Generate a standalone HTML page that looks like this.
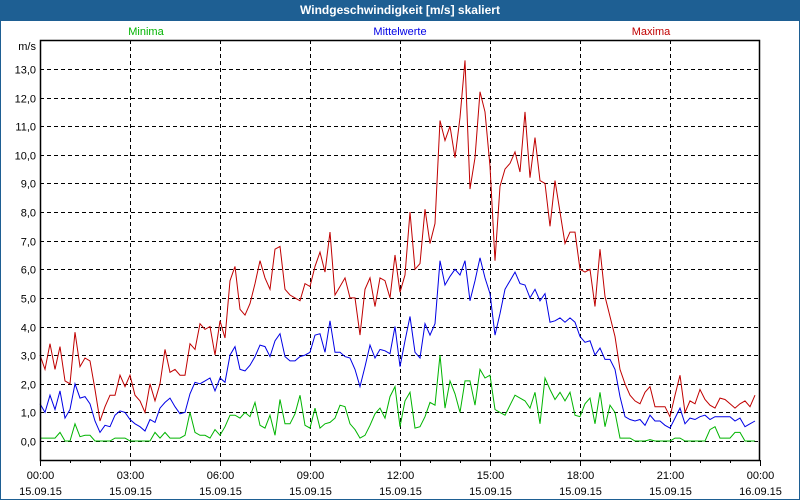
<!DOCTYPE html>
<html><head><meta charset="utf-8"><style>
html,body{margin:0;padding:0;width:800px;height:500px;overflow:hidden;background:#fff;font-family:"Liberation Sans",sans-serif}
#frame{position:absolute;left:0;top:0;width:798px;height:498px;border:1px solid #1e5f93;background:#fff}
#title{position:absolute;left:0;top:0;width:800px;height:21px;background:#1e5f93;color:#fff;font-weight:bold;font-size:12px;line-height:21px;text-align:center}
svg{position:absolute;left:0;top:0}
</style></head><body>
<div id="frame"></div>
<div id="title">Windgeschwindigkeit [m/s] skaliert</div>
<svg id="chart" width="800" height="500"></svg>
<script>
const maxima=[3.0,2.5,3.4,2.5,3.3,2.1,2.0,3.8,2.6,2.9,2.8,1.8,0.7,1.2,1.6,1.6,2.3,1.9,2.3,1.6,1.4,1.0,2.0,1.4,2.0,3.2,2.4,2.5,2.3,2.3,3.4,3.2,4.1,3.9,4.0,3.0,4.2,3.6,5.6,6.1,4.6,4.4,
4.8,5.5,6.3,5.7,5.3,6.7,6.8,5.3,5.1,5.0,4.9,5.5,5.4,6.1,6.6,5.9,7.3,5.1,5.4,5.7,5.0,5.0,3.7,5.3,5.7,4.7,5.7,5.6,5.0,6.5,5.2,5.8,8.0,6.0,6.2,8.1,6.9,7.6,
11.2,10.5,11.0,9.9,11.3,13.3,8.8,9.9,12.2,11.5,9.6,6.3,8.9,9.5,9.7,10.1,9.4,11.5,9.2,10.6,9.1,9.0,7.5,9.1,8.0,6.9,7.3,7.3,6.0,5.9,6.0,4.7,
6.7,5.05,4.35,3.65,2.5,2.0,1.6,1.4,1.3,1.7,1.9,1.2,1.2,1.2,0.85,1.6,2.3,1.0,1.4,1.3,1.8,1.45,1.25,1.15,1.5,1.45,1.3,1.15,1.3,1.4,1.2,1.6];
const mittel=[1.3,1.0,1.6,1.1,1.75,0.8,1.1,2.0,1.5,1.55,1.3,0.7,0.3,0.55,0.5,0.9,1.05,1.0,0.75,0.6,0.5,0.35,0.75,0.65,1.15,1.35,1.5,1.2,0.95,1.0,1.65,2.05,2.0,2.1,2.2,1.75,2.2,2.05,3.0,3.3,2.5,2.45,
2.65,2.95,3.35,3.3,2.95,3.5,3.75,2.95,2.8,2.8,2.95,3.0,3.1,3.7,3.75,3.1,4.2,3.1,3.1,2.95,2.9,2.5,1.9,2.6,3.35,2.9,3.2,3.15,3.05,4.0,2.6,3.5,4.35,3.1,2.9,4.1,3.7,4.1,
6.3,5.45,5.75,6.0,5.8,6.3,4.9,5.6,6.4,5.7,5.15,3.7,4.45,5.3,5.6,5.9,5.5,5.45,5.0,5.3,4.9,5.15,4.15,4.2,4.3,4.15,4.3,4.15,3.65,3.45,3.5,3.0,
3.25,2.85,2.85,2.5,1.55,0.85,0.75,0.7,0.75,0.55,0.9,0.7,0.7,0.55,0.45,0.8,1.15,0.6,0.8,0.75,0.85,0.9,0.75,0.85,0.85,0.85,0.85,0.7,0.8,0.5,0.6,0.7];
const minima=[0.1,0.1,0.1,0.1,0.3,0,0,0.6,0.15,0.2,0.2,0,0,0,0,0.1,0.1,0.1,0,0,0,0,0,0.3,0.1,0.3,0.1,0.1,0.1,0.2,1.0,0.3,0.2,0.2,0.1,0.4,0.2,0.5,0.9,0.9,0.8,1.0,
0.85,1.35,0.55,0.45,0.9,0.2,1.45,0.6,0.6,0.95,1.6,0.55,0.45,1.15,0.45,0.6,0.65,0.8,1.25,1.2,0.6,0.4,0.1,0.2,0.55,0.95,1.15,0.8,1.55,1.9,0.5,1.4,1.7,0.45,0.5,0.85,1.35,1.25,
3.0,1.15,2.1,1.65,1.0,2.1,2.1,1.25,2.5,2.2,2.3,1.1,1.0,0.9,1.25,1.6,1.5,1.4,1.15,1.7,0.6,2.2,1.8,1.45,1.7,1.4,1.7,0.9,0.85,1.3,1.5,0.6,
1.7,0.5,1.25,1.0,0.1,0.1,0.1,0,0,0,0.05,0,0,0,0,0.1,0.1,0,0,0,0,0,0.4,0.5,0.1,0.1,0.1,0.3,0.3,0,0,0];
const yTicks=[0,1,2,3,4,5,6,7,8,9,10,11,12,13];
const timeLabels=["00:00","03:00","06:00","09:00","12:00","15:00","18:00","21:00","00:00"];
const dateLabels=["15.09.15","15.09.15","15.09.15","15.09.15","15.09.15","15.09.15","15.09.15","15.09.15","16.09.15"];
const stepMinutes=10;

const L=40,R=760,T=40,B=460,Y0=441,UNIT=28.62;
const xScale=m=>L+(R-L)*m/1440;
const yScale=v=>Y0-v*UNIT;
const svg=document.getElementById('chart');
const NS='http://www.w3.org/2000/svg';
function mk(tag,attrs){const e=document.createElementNS(NS,tag);for(const k in attrs)e.setAttribute(k,attrs[k]);svg.appendChild(e);return e;}

const bg=mk('rect',{x:L,y:T,width:R-L,height:B-T,fill:'#fff'});



yTicks.forEach(v=>{
  const y=Math.round(yScale(v))+0.5;
  const g=mk('line',{x1:L,x2:R,y1:y,y2:y,stroke:'#000','stroke-dasharray':'4,3','stroke-width':1});
  
  
  const t=mk('text',{x:L-4,y:y+4,'text-anchor':'end','font-size':11,fill:'#000'});
  t.textContent=v.toFixed(1).replace('.',',');
  
  
});
timeLabels.forEach((lab,i)=>{
  const x=Math.round(xScale(i*180))+0.5;
  if(i>0&&i<timeLabels.length-1){
    const g=mk('line',{x1:x,x2:x,y1:T,y2:B,stroke:'#000','stroke-dasharray':'4,3','stroke-width':1});
    
    
  }
  const tk=mk('line',{x1:x,x2:x,y1:B,y2:B+6,stroke:'#000'});
  
  
  const t=mk('text',{x:x,y:479,'text-anchor':'middle','font-size':11,fill:'#000'});
  t.textContent=lab;
  
  
  const d=mk('text',{x:x,y:495,'text-anchor':'middle','font-size':11,fill:'#000'});
  d.textContent=dateLabels[i];
  
  
});
for(let h=1;h<24;h++){ if(h%3===0)continue;
  const x=Math.round(xScale(h*60))+0.5;
  const tk=mk('line',{x1:x,x2:x,y1:B,y2:B+3,stroke:'#000'});
  
  
}
function series(arr,color,name){
  const pts=arr.map((v,i)=>xScale(i*stepMinutes).toFixed(1)+','+yScale(v).toFixed(1)).join(' ');
  const p=mk('polyline',{points:pts,fill:'none',stroke:color,'stroke-width':1});
  
  
}
series(minima,'#00b400','minima-line');
series(mittel,'#0000e6','mittelwerte-line');
series(maxima,'#c00000','maxima-line');

const border=mk('rect',{x:L+0.5,y:T+0.5,width:R-L-1,height:B-T,fill:'none',stroke:'#000','stroke-width':1.5});



const unit=mk('text',{x:L-4,y:50,'text-anchor':'end','font-size':11,fill:'#000'});
unit.textContent='m/s';



[['Minima',146,'#00b400','legend-minima'],['Mittelwerte',400,'#0000e6','legend-mittelwerte'],['Maxima',651,'#c00000','legend-maxima']].forEach(([s,x,c,n])=>{
  const t=mk('text',{x:x,y:35,'text-anchor':'middle','font-size':11,fill:c});
  t.textContent=s;
  
  
});
</script>
</body></html>
